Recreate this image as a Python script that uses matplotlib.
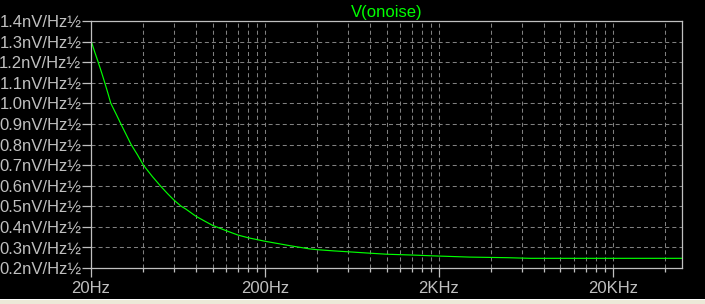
import numpy as np
import matplotlib
matplotlib.use("Agg")
import matplotlib.pyplot as plt
from matplotlib.ticker import FixedLocator, NullFormatter
from matplotlib.patches import Rectangle

# noise density (Hz, nV/sqrt(Hz))
freq = [20, 21, 22, 23, 24, 25, 26, 28, 29.7, 32, 34, 37, 40, 45, 50, 55, 60,
        66, 70, 80, 90, 100, 120, 140, 160, 200, 280, 360, 400, 500, 650,
        800, 1000, 1400, 2000, 2350, 3000, 5000, 6700, 10000, 20000, 50000]
onoise = [1.305, 1.25, 1.20, 1.15, 1.10, 1.05, 1.00, 0.945, 0.90, 0.845,
          0.80, 0.75, 0.70, 0.645, 0.60, 0.562, 0.53, 0.50, 0.487, 0.452,
          0.428, 0.407, 0.381, 0.360, 0.347, 0.330, 0.308, 0.293, 0.289,
          0.283, 0.277, 0.272, 0.267, 0.263, 0.258, 0.256, 0.253, 0.250,
          0.247, 0.247, 0.247, 0.247]

major_ticks = [20, 200, 2000, 20000]
major_labels = ["20Hz", "200Hz", "2KHz", "20KHz"]
y_ticks = [0.2, 0.3, 0.4, 0.5, 0.6, 0.7, 0.8, 0.9, 1.0, 1.1, 1.2, 1.3, 1.4]
y_labels = ["%.1fnV/Hz\u00bd" % v for v in y_ticks]
title = "V(onoise)"

W, H = 705, 304
plt.rcParams['font.family'] = ['Liberation Sans', 'DejaVu Sans']
plt.rcParams['lines.scale_dashes'] = False

fig = plt.figure(figsize=(W / 100, H / 100), dpi=100, facecolor="black")
ax = fig.add_axes([91 / W, (H - 268) / H, (682 - 91) / W, (268 - 21) / H])
ax.set_facecolor("black")

# window border strip at the bottom
fig.patches.append(Rectangle((0, 0), 1, 5 / H, transform=fig.transFigure,
                             facecolor="#ece9d8", edgecolor="none"))
fig.patches.append(Rectangle((0, 4 / H), 1, 1 / H, transform=fig.transFigure,
                             facecolor="#ffffff", edgecolor="none"))

ax.plot(freq, onoise, color="#00ff00", lw=0.85)
ax.set_xscale("log")
ax.set_xlim(20, 50000)
ax.set_ylim(0.2, 1.4)

# minor grid positions: 20*k per decade
minors = []
for dec in [20, 200, 2000, 20000]:
    for k in range(2, 10):
        if dec * k < 50000:
            minors.append(dec * k)

ax.xaxis.set_major_locator(FixedLocator(major_ticks))
ax.set_xticklabels(major_labels)
ax.xaxis.set_minor_locator(FixedLocator(minors))
ax.xaxis.set_minor_formatter(NullFormatter())
ax.set_yticks(y_ticks)
ax.set_yticklabels(y_labels)
ax.yaxis.set_minor_locator(FixedLocator([]))

grey = "#c0c0c0"
gridc = "#808080"
dash = (0, (2.9, 2.2))
for f in major_ticks[1:] + minors:
    ax.axvline(f, color=gridc, lw=0.75, linestyle=dash, zorder=1)
for v in y_ticks[1:-1]:
    ax.axhline(v, color=gridc, lw=0.75, linestyle=dash, zorder=1)

for s in ax.spines.values():
    s.set_color(grey)
    s.set_linewidth(0.9)

ax.tick_params(axis="x", which="major", length=6.5, width=0.9, color=grey,
               labelcolor=grey, labelsize=12, pad=3)
ax.tick_params(axis="x", which="minor", length=3, width=0.9, color=grey)
ax.tick_params(axis="y", length=6.5, width=0.9, color=grey,
               labelcolor=grey, labelsize=12, pad=0.5)

ax.set_title(title, color="#00ff00", fontsize=12, pad=3)

fig.savefig("out.png", dpi=100, facecolor="black")
